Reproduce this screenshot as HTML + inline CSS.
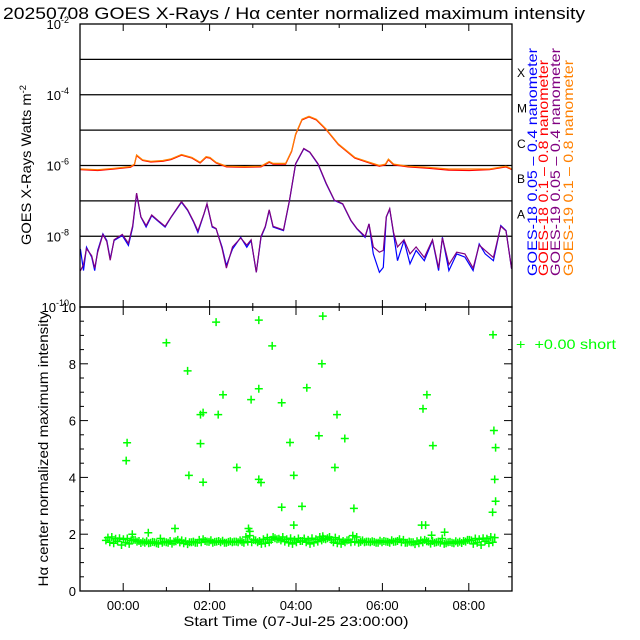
<!DOCTYPE html>
<html><head><meta charset="utf-8"><style>
body{margin:0;background:#fff}
svg{display:block;font-family:"Liberation Sans",sans-serif}
</style></head><body>
<svg id="c" width="640" height="640" viewBox="0 0 640 640">
<rect width="640" height="640" fill="#fff"/>
<text x="3" y="19" font-size="17" textLength="582" lengthAdjust="spacingAndGlyphs">20250708 GOES X-Rays / Hα center normalized maximum intensity</text>
<g id="topPanel"></g>
<g id="botPanel"></g>
<text transform="translate(31,165) rotate(-90)" text-anchor="middle" font-size="14" textLength="160" lengthAdjust="spacingAndGlyphs">GOES X-Rays Watts m<tspan dy="-5" font-size="9">-2</tspan></text>
<text transform="translate(48,449) rotate(-90)" text-anchor="middle" font-size="14" textLength="275" lengthAdjust="spacingAndGlyphs">Hα center normalized maximum intensity</text>
<text x="296" y="626" text-anchor="middle" font-size="14" textLength="225" lengthAdjust="spacingAndGlyphs">Start Time (07-Jul-25 23:00:00)</text>
<g font-size="14">
<text transform="translate(537,276) rotate(-90)" fill="#0000ff" textLength="228" lengthAdjust="spacingAndGlyphs">GOES-18 0.05 – 0.4 nanometer</text>
<text transform="translate(548,276) rotate(-90)" fill="#ff0000" textLength="216" lengthAdjust="spacingAndGlyphs">GOES-18 0.1 – 0.8 nanometer</text>
<text transform="translate(560,276) rotate(-90)" fill="#800080" textLength="228" lengthAdjust="spacingAndGlyphs">GOES-19 0.05 – 0.4 nanometer</text>
<text transform="translate(573,276) rotate(-90)" fill="#ff8000" textLength="216" lengthAdjust="spacingAndGlyphs">GOES-19 0.1 – 0.8 nanometer</text>
</g>
<g fill="#00ff00">
<text x="516" y="349" font-size="14" textLength="100" lengthAdjust="spacingAndGlyphs">+ &#160;+0.00 short</text>
</g>
</svg>
<script>
// ---- top panel data (hours since 00:00, value = log10 flux)
const longT=[-0.99,-0.59,-0.21,0.17,0.26,0.31,0.45,0.64,0.92,1.11,1.35,1.59,1.78,1.92,2.01,2.15,2.39,2.81,3.19,3.38,3.47,3.76,3.9,3.99,4.14,4.3,4.47,4.7,4.98,5.36,5.65,5.93,6.07,6.14,6.26,6.59,7.06,7.53,8.01,8.48,8.86,9.0];
const g19Long=[-6.1,-6.12,-6.08,-6.03,-5.96,-5.7,-5.84,-5.88,-5.86,-5.81,-5.69,-5.77,-5.91,-5.75,-5.77,-5.91,-6.02,-6.03,-6.02,-5.89,-5.94,-5.94,-5.58,-5.11,-4.69,-4.61,-4.69,-4.97,-5.39,-5.77,-5.89,-6.0,-5.96,-5.82,-5.96,-6.02,-6.05,-6.1,-6.1,-6.1,-6.02,-6.1];
const g18Long=[-6.12,-6.14,-6.1,-6.05,-5.98,-5.72,-5.86,-5.9,-5.88,-5.83,-5.71,-5.79,-5.93,-5.77,-5.79,-5.93,-6.04,-6.05,-6.04,-5.91,-5.96,-5.96,-5.6,-5.13,-4.71,-4.63,-4.71,-4.99,-5.41,-5.79,-5.91,-6.02,-5.98,-5.84,-5.98,-6.04,-6.08,-6.13,-6.14,-6.12,-6.04,-6.12];
const shortT=[-0.99,-0.92,-0.85,-0.73,-0.66,-0.59,-0.47,-0.38,-0.3,-0.21,-0.02,0.12,0.22,0.31,0.41,0.53,0.66,0.83,0.97,1.11,1.35,1.49,1.63,1.73,1.87,1.94,2.06,2.15,2.29,2.39,2.53,2.72,2.86,2.96,3.08,3.19,3.29,3.38,3.47,3.71,3.85,3.99,4.18,4.32,4.51,4.7,4.89,5.08,5.27,5.41,5.6,5.69,5.79,5.93,6.02,6.09,6.17,6.26,6.35,6.5,6.64,6.78,6.97,7.16,7.3,7.39,7.54,7.72,7.91,8.1,8.24,8.38,8.57,8.74,8.86,8.99];
const g18Short=[-8.36,-8.97,-8.31,-8.59,-8.97,-8.4,-7.93,-8.12,-8.64,-8.12,-7.98,-8.26,-7.74,-6.8,-7.46,-7.74,-7.42,-7.6,-7.74,-7.46,-7.04,-7.27,-7.6,-7.89,-7.37,-7.09,-7.74,-7.79,-8.31,-8.83,-8.36,-8.03,-8.31,-8.12,-9.02,-8.03,-7.74,-7.27,-7.74,-7.84,-6.99,-5.96,-5.53,-5.63,-5.96,-6.52,-6.99,-7.09,-7.56,-7.79,-8.03,-7.65,-8.5,-9.02,-8.88,-7.46,-7.23,-7.93,-8.69,-8.12,-8.78,-8.4,-8.69,-8.12,-8.97,-8.03,-8.97,-8.5,-8.59,-8.97,-8.22,-8.5,-8.69,-7.7,-7.84,-8.92];
const g19Short=[-8.98,-8.8,-8.35,-8.55,-8.9,-8.45,-7.95,-8.15,-8.68,-8.1,-7.95,-8.2,-7.7,-6.78,-7.45,-7.7,-7.4,-7.58,-7.72,-7.45,-7.02,-7.25,-7.58,-7.85,-7.36,-7.08,-7.72,-7.78,-8.35,-8.9,-8.3,-8.05,-8.25,-8.1,-9.02,-8.0,-7.72,-7.25,-7.72,-7.82,-6.98,-5.95,-5.52,-5.62,-5.95,-6.5,-6.98,-7.08,-7.55,-7.78,-8.0,-7.65,-8.3,-8.45,-8.4,-7.45,-7.22,-7.9,-8.3,-8.1,-8.5,-8.3,-8.6,-8.1,-8.9,-8.05,-8.8,-8.45,-8.5,-8.9,-8.25,-8.4,-8.6,-7.72,-7.85,-8.92];
// ---- bottom panel data (hours since 00:00, normalized intensity)
const bandStart=-0.4, bandStep=0.09;
const bandVals=[1.78,1.72,1.68,1.75,1.62,1.7,1.66,1.8,1.74,1.69,1.7,1.68,1.73,1.68,1.85,1.74,1.7,1.67,1.75,1.71,1.68,1.65,1.72,1.7,1.8,1.82,1.74,1.79,1.73,1.76,1.77,1.7,1.75,1.74,1.72,1.73,1.9,1.95,1.8,1.72,1.66,1.68,1.72,1.9,1.82,1.78,1.74,1.7,1.66,1.72,1.76,1.85,1.8,1.86,1.82,1.9,1.84,1.86,1.8,1.88,1.82,1.76,1.78,1.72,1.74,1.7,1.78,1.74,1.72,1.73,1.7,1.72,1.74,1.7,1.73,1.76,1.72,1.7,1.74,1.72,1.75,1.78,1.8,1.74,1.76,1.72,1.7,1.66,1.72,1.7,1.75,1.74,1.76,1.8,1.78,1.85,1.82,1.86,1.84,1.9,1.88];
const outT=[0.09,0.07,1.0,1.49,1.52,1.79,1.85,1.79,1.85,2.15,2.2,2.31,2.63,2.96,3.14,3.14,3.14,3.19,3.45,3.67,3.67,3.86,3.95,3.95,4.14,4.25,4.53,4.62,4.6,4.95,5.13,4.9,5.34,6.94,7.03,7.17,8.56,8.58,8.62,8.6,8.62,8.55,6.91,7.0,7.14,7.44,4.62,0.21,0.58,1.2,2.9,2.93];
const outV=[5.22,4.59,8.74,7.75,4.07,6.21,6.28,5.19,3.83,9.47,6.21,6.91,4.35,6.74,9.54,7.12,3.93,3.82,8.63,6.63,2.95,5.23,4.07,2.32,2.98,7.16,5.47,9.68,8.0,6.21,5.37,4.35,2.91,6.42,6.91,5.12,9.02,5.65,5.05,3.93,3.16,2.77,2.32,2.32,1.96,2.07,1.93,2.0,2.05,2.2,2.2,2.1];
const topYTicks=[-2,-4,-6,-8,-10];
const botYTicks=[0,2,4,6,8,10];
const timeLabels=["00:00","02:00","04:00","06:00","08:00"];
const classLabels=["X","M","C","B","A"];

const NS="http://www.w3.org/2000/svg";
function el(tag,attrs,parent){const e=document.createElementNS(NS,tag);for(const k in attrs)e.setAttribute(k,attrs[k]);parent.appendChild(e);return e;}
const T={x0:80,x1:512,y0:24,y1:307};
const xT=h=>T.x0+(h+1)*(T.x1-T.x0)/10;
const yT=l=>T.y0+(-2-l)*(T.y1-T.y0)/8;
const B={x0:80,x1:512,y0:307,y1:591};
const xB=h=>B.x0+(h+1)*(B.x1-B.x0)/10;
const yB=v=>B.y1-v*(B.y1-B.y0)/10;
const topG=document.getElementById('topPanel'),botG=document.getElementById('botPanel');

for(let d=-3;d>=-8;d--){const ln=el('line',{x1:T.x0,x2:T.x1,y1:yT(d),y2:yT(d),stroke:'#000','stroke-width':1.3},topG);

}
for(let h=-1;h<=9;h++){const x=xT(h);const big=h%2==0;
 el('line',{x1:x,x2:x,y1:T.y0,y2:T.y0+(big?7:4),stroke:'#000'},topG);
 el('line',{x1:x,x2:x,y1:T.y1,y2:T.y1-(big?7:4),stroke:'#000'},topG);}
topYTicks.forEach(d=>{const t=el('text',{x:69,y:yT(d)+5,'text-anchor':'end','font-size':13},topG);
 
 
 const a=document.createElementNS(NS,'tspan');a.textContent='10';t.appendChild(a);
 const b=el('tspan',{dy:-6,'font-size':9},t);b.textContent=String(d);});
classLabels.forEach((c,i)=>{const t=el('text',{x:517,y:yT(-3.5-i)+0,'font-size':12},topG);
 
 
 t.textContent=c;});
function line(ts,vs,color,name){const p=ts.map((t,i)=>xT(t).toFixed(1)+','+yT(vs[i]).toFixed(1)).join(' ');
 const e=el('polyline',{points:p,fill:'none',stroke:color,'stroke-width':1.2},topG);
 
 }
line(longT,g18Long,'#ff0000','goes18-long-line');
line(longT,g19Long,'#ff8000','goes19-long-line');
line(shortT,g18Short,'#0000ff','goes18-short-line');
line(shortT,g19Short,'#800080','goes19-short-line');
const fr=el('rect',{x:T.x0,y:T.y0,width:T.x1-T.x0,height:T.y1-T.y0,fill:'none',stroke:'#000','stroke-width':1.3},topG);



for(let h=-1;h<=9;h++){const x=xB(h);const big=h%2==0;
 el('line',{x1:x,x2:x,y1:B.y1,y2:B.y1-(big?8:4),stroke:'#000'},botG);
 el('line',{x1:x,x2:x,y1:B.y0,y2:B.y0+(big?8:4),stroke:'#000'},botG);}
timeLabels.forEach((s,i)=>{const t=el('text',{x:xB(i*2),y:610,'text-anchor':'middle','font-size':13},botG);
 
 
 t.textContent=s;});
for(let v=0;v<=10;v+=0.5){const big=v%2==0;
 el('line',{x1:B.x0,x2:B.x0+(big?8:4),y1:yB(v),y2:yB(v),stroke:'#000'},botG);
 el('line',{x1:B.x1,x2:B.x1-(big?8:4),y1:yB(v),y2:yB(v),stroke:'#000'},botG);}
botYTicks.forEach(v=>{const t=el('text',{x:76,y:yB(v)+5,'text-anchor':'end','font-size':13},botG);
 
 
 t.textContent=v;});
function plus(h,v,name){const x=xB(h),y=yB(v);
 const g=el('path',{d:`M${(x-4).toFixed(1)},${y.toFixed(1)}h8M${x.toFixed(1)},${(y-4).toFixed(1)}v8`,stroke:'#00ff00','stroke-width':1.5,fill:'none'},botG);
 
 }
bandVals.forEach((v,i)=>{plus(bandStart+i*bandStep,v,'halpha-point');});
bandVals.forEach((v,i)=>{if(i+1<bandVals.length)plus(bandStart+(i+0.5)*bandStep,bandVals[bandVals.length-1-i],'halpha-point');});
outT.forEach((t,i)=>plus(t,outV[i],'halpha-point'));
const fb=el('rect',{x:B.x0,y:B.y0,width:B.x1-B.x0,height:B.y1-B.y0,fill:'none',stroke:'#000','stroke-width':1.3},botG);


</script>
</body></html>
